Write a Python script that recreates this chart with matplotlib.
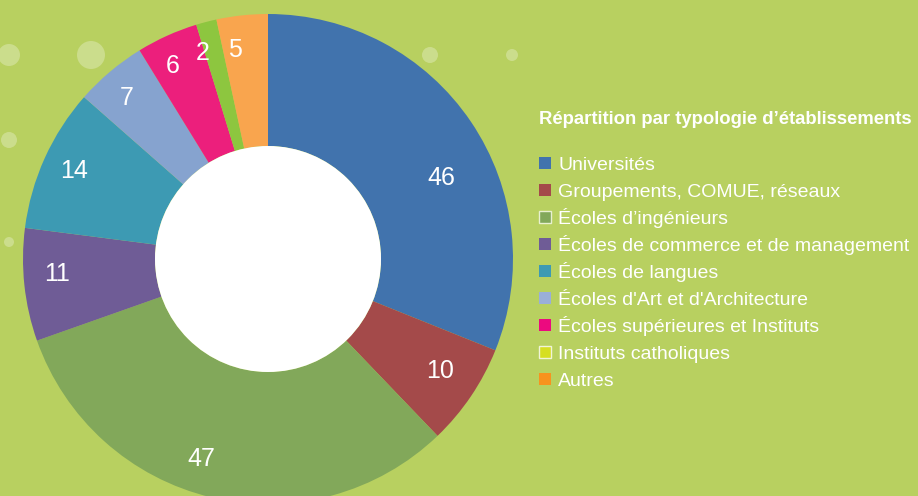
import matplotlib
matplotlib.use("Agg")
import matplotlib.pyplot as plt
from matplotlib.patches import Circle, Rectangle
import numpy as np

categories = [
    "Universités",
    "Groupements, COMUE, réseaux",
    "Écoles d’ingénieurs",
    "Écoles de commerce et de management",
    "Écoles de langues",
    "Écoles d'Art et d'Architecture",
    "Écoles supérieures et Instituts",
    "Instituts catholiques",
    "Autres",
]
values = [46, 10, 47, 11, 14, 7, 6, 2, 5]
title = "Répartition par typologie d’établissements"

wedge_colors = ["#4173ad", "#a44a4a", "#82a85a", "#6f5c96", "#3d9ab3",
                "#86a3cf", "#ec1f7c", "#8dc63f", "#f9a54e"]
legend_colors = ["#4173ad", "#a44a4a", "#82a85a", "#6f5c96", "#3d9ab3",
                 "#9aafd8", "#ec0a7f", "#d6df22", "#f7931e"]
legend_edge = [None, None, "#e8f0d0", None, None, None, None, "#f0f4d8", None]
bg = "#b8d060"

plt.rcParams['font.family'] = ['Liberation Sans', 'DejaVu Sans']

W, H = 918, 496
fig = plt.figure(figsize=(W / 100, H / 100), dpi=100, facecolor=bg)
ax = fig.add_axes([0, 0, 1, 1])
ax.set_facecolor(bg)

# decorative bubbles
for (bx, by, br) in [(9, 55, 11), (91, 55, 14), (430, 55, 8), (512, 55, 6),
                     (9, 140, 8), (9, 242, 5)]:
    ax.add_patch(Circle((bx, H - by), br, color="white", alpha=0.28, lw=0, zorder=1))

cx, cy, R, r_in = 268, H - 259, 245, 113
wedges, _ = ax.pie(values, colors=wedge_colors, startangle=90, counterclock=False,
                   center=(cx, cy), radius=R,
                   wedgeprops=dict(width=R - r_in, linewidth=0))
for w in wedges:
    w.set_zorder(2)
ax.add_patch(Circle((cx, cy), r_in, color="white", lw=0, zorder=3))

angle_shift = [-9, 1, -5, -2, 0, 1, 2, 3, 3]
radius_frac = [0.78, 0.84, 0.86, 0.865, 0.87, 0.875, 0.88, 0.88, 0.865]
for w, v, da, rf in zip(wedges, values, angle_shift, radius_frac):
    ang = np.deg2rad((w.theta1 + w.theta2) / 2 + da)
    ax.text(cx + rf * R * np.cos(ang), cy + rf * R * np.sin(ang), str(v),
            color="white", fontsize=18, ha="center", va="center", zorder=4)

ax.set_xlim(0, W)
ax.set_ylim(0, H)
ax.set_aspect("equal")
ax.axis("off")

# legend
fs_title, fs_item = 13.3, 14
cap_t = fs_title * 100 / 72 * 0.716
ax.text(539, H - 117 - cap_t / 2, title, color="white", fontsize=fs_title,
        fontweight="bold", ha="left", va="baseline", zorder=4)
cap_i = fs_item * 100 / 72 * 0.716
y0, dy = 163, 27
for i, (lab, c, ec) in enumerate(zip(categories, legend_colors, legend_edge)):
    y = H - (y0 + i * dy)
    ax.add_patch(Rectangle((539, y - 6), 12, 12, facecolor=c,
                           edgecolor=ec if ec else c, lw=1.0 if ec else 0, zorder=4))
    ax.text(558, y - cap_i / 2, lab, color="white", fontsize=fs_item,
            ha="left", va="baseline", zorder=4)

fig.savefig("out.png", dpi=100, facecolor=bg)
